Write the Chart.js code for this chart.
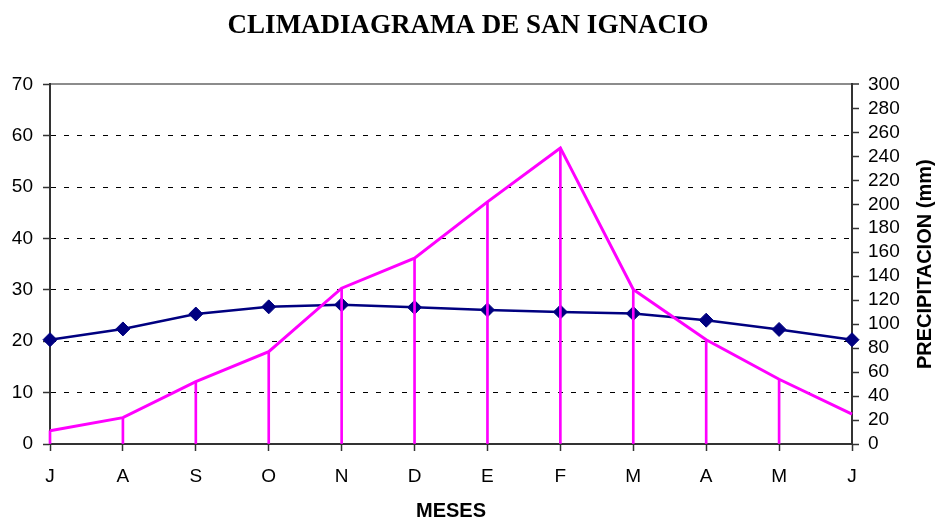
<!DOCTYPE html>
<html>
<head>
<meta charset="utf-8">
<script src="https://cdn.jsdelivr.net/npm/chart.js@4/dist/chart.umd.min.js"></script>
<style>
  html, body { margin: 0; padding: 0; background: #ffffff; }
  #wrap { width: 936px; height: 521px; position: relative; }
</style>
</head>
<body>
<div id="wrap"><canvas id="c"></canvas></div>
<script>
// ---- data ----
const months = ['J', 'A', 'S', 'O', 'N', 'D', 'E', 'F', 'M', 'A', 'M', 'J'];
const temperature = [20.3, 22.4, 25.3, 26.7, 27.1, 26.6, 26.1, 25.7, 25.4, 24.1, 22.3, 20.3];
const precipitation = [11, 22, 52, 77, 130, 155, 202, 247, 129, 87, 54, 25];
const tempAxis = { min: 0, max: 70, step: 10 };
const precipAxis = { min: 0, max: 300, step: 20 };
const chartTitle = 'CLIMADIAGRAMA DE SAN IGNACIO';
const xTitle = 'MESES';
const y1Title = 'PRECIPITACION (mm)';

Chart.defaults.font.family = '"Liberation Sans", Arial, sans-serif';
Chart.defaults.color = '#000000';

const rightTitlePlugin = {
  id: 'rightTitle',
  afterDraw(chart) {
    const s = chart.scales.y1;
    const ctx = chart.ctx;
    ctx.save();
    ctx.translate(s.right - 11, (s.top + s.bottom) / 2);
    ctx.rotate(-Math.PI / 2);
    ctx.font = 'bold 20px "Liberation Sans", Arial, sans-serif';
    ctx.fillStyle = '#000000';
    ctx.textAlign = 'center';
    ctx.textBaseline = 'middle';
    ctx.fillText(y1Title, 0, 0);
    ctx.restore();
  }
};

const lastIdx = precipitation.length - 1;

new Chart(document.getElementById('c'), {
  type: 'line',
  data: {
    labels: months,
    datasets: [
      {
        label: 'Precipitación',
        type: 'line',
        yAxisID: 'y1',
        data: precipitation,
        borderColor: '#FF00FF',
        borderWidth: 3,
        pointRadius: 0,
        tension: 0,
        fill: false,
        clip: false
      },
      {
        label: 'Precipitación (barras)',
        type: 'bar',
        yAxisID: 'y1',
        data: precipitation,
        backgroundColor: (c) => c.dataIndex === lastIdx ? 'rgba(0,0,0,0)' : '#FF00FF',
        borderWidth: 0,
        barThickness: 2,
        clip: false
      },
      {
        label: 'Temperatura',
        type: 'line',
        yAxisID: 'y',
        data: temperature,
        borderColor: '#000080',
        borderWidth: 2.5,
        pointStyle: 'rectRot',
        pointRadius: 7,
        pointBackgroundColor: '#000080',
        pointBorderColor: '#000080',
        pointBorderWidth: 1,
        tension: 0,
        fill: false,
        clip: false
      }
    ]
  },
  options: {
    responsive: true,
    maintainAspectRatio: false,
    animation: false,
    events: [],
    layout: { padding: 0 },
    plugins: {
      legend: { display: false },
      tooltip: { enabled: false },
      title: {
        display: true,
        text: chartTitle,
        color: '#000000',
        font: { family: '"Liberation Serif", "Times New Roman", serif', size: 27, weight: 'bold', lineHeight: 1.2 },
        padding: { top: 10, bottom: 42 }
      }
    },
    scales: {
      x: {
        type: 'category',
        offset: false,
        grid: {
          display: true,
          offset: false,
          drawOnChartArea: false,
          drawTicks: true,
          tickLength: 7,
          tickColor: '#333333',
          tickWidth: 1.5
        },
        border: { color: '#333333', width: 2 },
        ticks: {
          font: { size: 19 },
          color: '#000000',
          padding: 14,
          maxRotation: 0,
          autoSkip: false
        },
        title: {
          display: true,
          text: xTitle,
          color: '#000000',
          font: { size: 20, weight: 'bold', lineHeight: 1 },
          padding: { top: 13, bottom: 0 }
        },
        afterFit(s) { s.height = 77; }
      },
      y: {
        position: 'left',
        min: tempAxis.min,
        max: tempAxis.max,
        ticks: {
          stepSize: tempAxis.step,
          font: { size: 19 },
          color: '#000000',
          padding: 10
        },
        grid: {
          color: (c) => (c.tick && (c.tick.value === tempAxis.min || c.tick.value === tempAxis.max)) ? 'rgba(0,0,0,0)' : '#000000',
          lineWidth: 1,
          drawTicks: true,
          tickLength: 7,
          tickColor: '#333333',
          tickWidth: 1.5,
          tickBorderDash: []
        },
        border: { color: '#333333', width: 2, dash: [5, 8] },
        afterFit(s) { s.width = 50; }
      },
      y1: {
        position: 'right',
        min: precipAxis.min,
        max: precipAxis.max,
        ticks: {
          stepSize: precipAxis.step,
          maxTicksLimit: 20,
          autoSkip: false,
          font: { size: 19 },
          color: '#000000',
          padding: 9
        },
        grid: {
          drawOnChartArea: true,
          color: (c) => (c.tick && c.tick.value === precipAxis.max) ? '#8c8c8c' : 'rgba(0,0,0,0)',
          lineWidth: (c) => (c.tick && c.tick.value === precipAxis.max) ? 2 : 1,
          drawTicks: true,
          tickLength: 7,
          tickColor: '#333333',
          tickWidth: 1.5
        },
        border: { color: '#333333', width: 2 },
        afterFit(s) { s.width = 84; }
      }
    }
  },
  plugins: [rightTitlePlugin]
});
</script>
</body>
</html>
